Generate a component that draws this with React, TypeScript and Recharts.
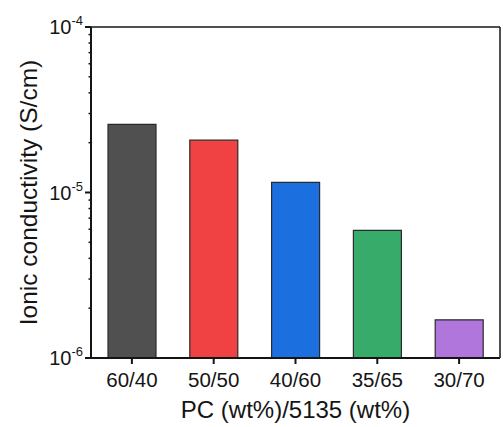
import { BarChart, Bar, XAxis, YAxis, Cell, CartesianGrid } from "recharts";

// Ionic conductivity vs. PC/5135 ratio
const ratios = ["60/40", "50/50", "40/60", "35/65", "30/70"];
const conductivity = [2.58e-5, 2.07e-5, 1.15e-5, 5.9e-6, 1.7e-6];
const barColors = ["#505050", "#f04143", "#1b6fdf", "#37ab6a", "#b076dc"];

const majorTicks = [1e-6, 1e-5, 1e-4];
const minorTicks = [
  2e-6, 3e-6, 4e-6, 5e-6, 6e-6, 7e-6, 8e-6, 9e-6,
  2e-5, 3e-5, 4e-5, 5e-5, 6e-5, 7e-5, 8e-5, 9e-5,
];
const exponents = ["-6", "-5", "-4"];

const data = ratios.map((r, i) => ({ ratio: r, value: conductivity[i] }));

const FONT = "'Liberation Sans', Arial, sans-serif";
const INK = "#151515";

function YTick(props: any) {
  const { x, y, payload } = props;
  const v = payload.value;
  const idx = majorTicks.findIndex((m) => Math.abs(m - v) / m < 1e-6);
  if (idx < 0) {
    return <line x1={x - 2.5} x2={x} y1={y} y2={y} stroke={INK} strokeWidth={1.5} />;
  }
  return (
    <g>
      <line x1={x - 6} x2={x} y1={y} y2={y} stroke={INK} strokeWidth={2} />
      <text
        x={x - 8}
        y={y + 7}
        textAnchor="end"
        fontFamily={FONT}
        fontSize={20}
        fill={INK}
      >
        <tspan>10</tspan>
        <tspan dy={-9} fontSize={13}>
          {exponents[idx]}
        </tspan>
      </text>
    </g>
  );
}

function YTitle(props: any) {
  const { viewBox } = props;
  const cx = 28;
  const cy = viewBox.y + viewBox.height / 2;
  return (
    <text
      x={cx}
      y={cy}
      transform={`rotate(-90, ${cx}, ${cy})`}
      textAnchor="middle"
      dominantBaseline="central"
      fontFamily={FONT}
      fontSize={24.5}
      fill={INK}
    >
      Ionic conductivity (S/cm)
    </text>
  );
}

export default function App() {
  return (
    <div style={{ position: "absolute", left: 0, top: 0, background: "#fff" }}>
      <BarChart
        width={503}
        height={427}
        data={data}
        margin={{ top: 27, right: 3, bottom: 0, left: 0 }}
      >
        {/* frame: top and right edges */}
        <CartesianGrid
          stroke={INK}
          strokeWidth={1.5}
          horizontalCoordinatesGenerator={({ offset }: any) => [offset.top]}
          verticalCoordinatesGenerator={({ offset }: any) => [
            offset.left + offset.width,
          ]}
        />
        <XAxis
          dataKey="ratio"
          height={69}
          axisLine={{ stroke: INK, strokeWidth: 2 }}
          tickLine={{ stroke: INK, strokeWidth: 2 }}
          tickSize={6}
          tickMargin={8}
          tick={{ fontSize: 20.5, fill: INK, fontFamily: FONT }}
          interval={0}
          label={{
            value: "PC (wt%)/5135 (wt%)",
            position: "insideBottom",
            offset: 9,
            fontSize: 24,
            fill: INK,
            fontFamily: FONT,
          }}
        />
        <YAxis
          type="number"
          scale="log"
          domain={[1e-6, 1e-4]}
          allowDataOverflow
          ticks={[...majorTicks, ...minorTicks]}
          interval={0}
          width={91}
          tickSize={0}
          tickMargin={0}
          tickLine={false}
          axisLine={{ stroke: INK, strokeWidth: 2 }}
          tick={<YTick />}
          label={{ content: <YTitle /> }}
        />
        <Bar
          dataKey="value"
          barSize={48}
          stroke="#2a2a2a"
          strokeWidth={1.2}
          isAnimationActive={false}
        >
          {data.map((d, i) => (
            <Cell key={d.ratio} fill={barColors[i]} />
          ))}
        </Bar>
      </BarChart>
    </div>
  );
}
